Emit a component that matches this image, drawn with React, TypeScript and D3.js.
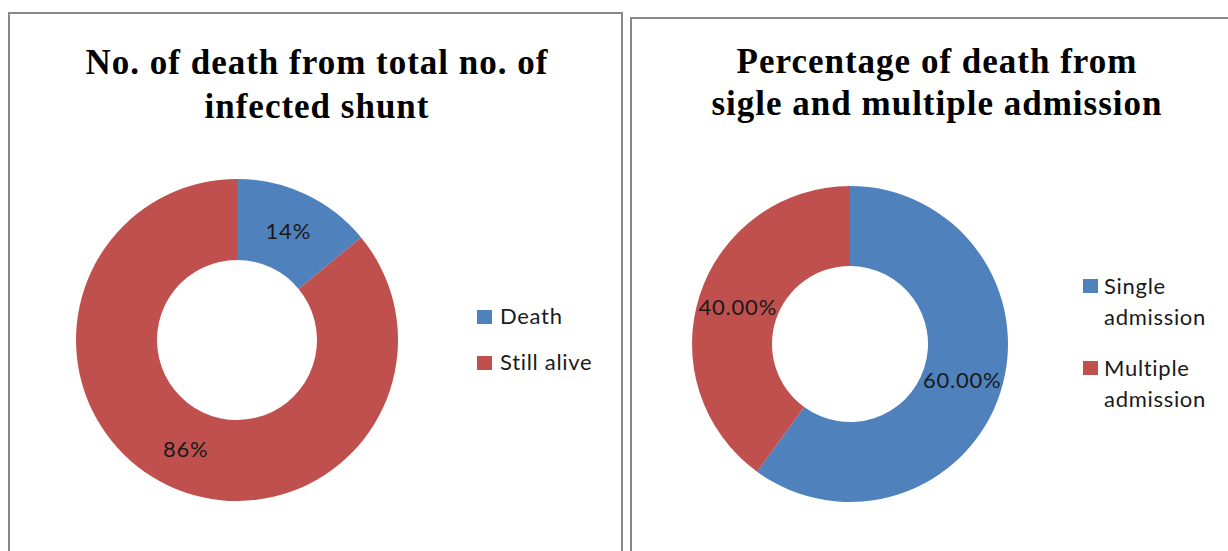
import React from 'react';
import * as d3 from 'd3';

// left chart
const shuntLabels = ['Death', 'Still alive'];
const shuntValues = [14, 86];
const shuntText = ['14%', '86%'];

// right chart
const admissionLabels = [['Single', 'admission'], ['Multiple', 'admission']];
const admissionValues = [60, 40];
const admissionText = ['60.00%', '40.00%'];

const colors = ['#4F81BD', '#C0504D'];
const labelFont = 'Lato, "Open Sans", sans-serif';
const titleFont = '"Liberation Serif", "Times New Roman", serif';

function Donut({ cx, cy, outer, inner, values, texts }: any) {
    const pie = d3.pie<number>().sort(null).value(d => d);
    const arcs = pie(values);
    const arc = d3.arc<d3.PieArcDatum<number>>().innerRadius(inner).outerRadius(outer);
    const mid = d3.arc<d3.PieArcDatum<number>>().innerRadius((inner + outer) / 2).outerRadius((inner + outer) / 2);
    return (
        <g transform={`translate(${cx},${cy})`}>
            {arcs.map((a, i) => (
                <path key={'p' + i} d={arc(a) || ''} fill={colors[i]} />
            ))}
            {arcs.map((a, i) => {
                const [x, y] = mid.centroid(a);
                return (
                    <text key={'t' + i} x={x} y={y} dy="0.35em" textAnchor="middle" letterSpacing={0.8}
                        fontFamily={labelFont} fontSize={22} fill="#1a1a1a">{texts[i]}</text>
                );
            })}
        </g>
    );
}

export default function App() {
    const title = { fontFamily: titleFont, fontWeight: 'bold', fontSize: 35, letterSpacing: 1, textAnchor: 'middle' } as any;
    const leg = { fontFamily: labelFont, fontSize: 22, letterSpacing: 0.7, fill: '#1a1a1a' } as any;
    return (
        <div style={{ position: 'absolute', left: 0, top: 0 }}>
            <svg width={1228} height={551} style={{ display: 'block', background: '#fff' }}>
                {/* panel frames */}
                <path d="M9,560 V13 H622 V560" fill="none" stroke="#898989" strokeWidth={2} />
                <path d="M631,560 V18 H1240" fill="none" stroke="#898989" strokeWidth={2} />

                {/* left panel */}
                <text x={317} y={74} {...title}>No. of death from total no. of</text>
                <text x={317} y={118} {...title}>infected shunt</text>
                <Donut cx={237} cy={340} outer={161} inner={80} values={shuntValues} texts={shuntText} />
                {shuntLabels.map((l, i) => (
                    <g key={l} transform={`translate(477,${310 + i * 46})`}>
                        <rect width={15} height={14} fill={colors[i]} />
                        <text x={23} y={14} {...leg}>{l}</text>
                    </g>
                ))}

                {/* right panel */}
                <text x={937} y={73} {...title}>Percentage of death from</text>
                <text x={937} y={115} {...title}>sigle and multiple admission</text>
                <Donut cx={850} cy={344} outer={158} inner={78} values={admissionValues} texts={admissionText} />
                {admissionLabels.map((l, i) => (
                    <g key={i} transform={`translate(1083,${279 + i * 82})`}>
                        <rect width={15} height={14} fill={colors[i]} />
                        <text x={21} y={15} {...leg}>{l[0]}</text>
                        <text x={21} y={46} {...leg}>{l[1]}</text>
                    </g>
                ))}
            </svg>
        </div>
    );
}
